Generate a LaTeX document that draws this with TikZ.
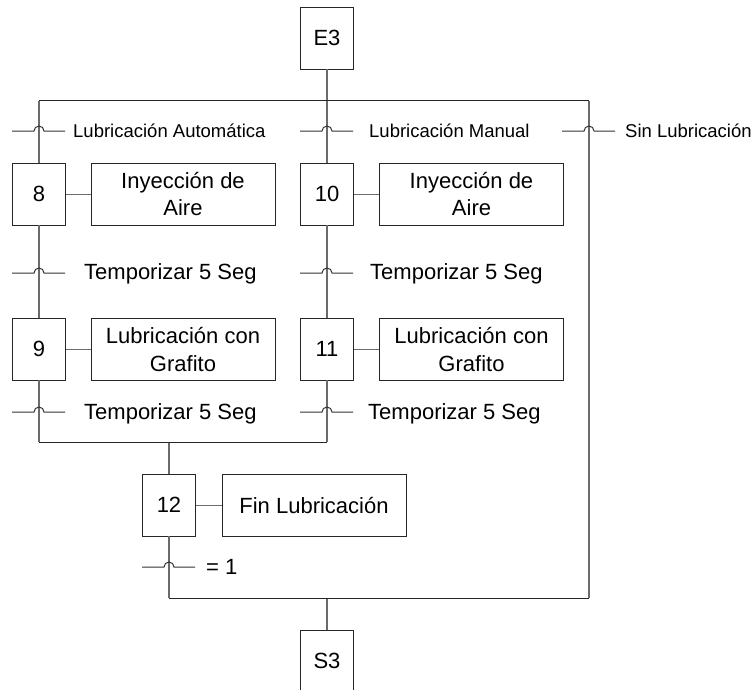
\documentclass[tikz,border=0pt]{standalone}
\usepackage{fontspec}
\setmainfont{Liberation Sans}
\begin{document}
\begin{tikzpicture}[x=1pt,y=-1pt,
  box/.style={draw=black!85,line width=0.9pt,minimum height=62pt,inner sep=0pt,
    font=\fontsize{22}{28}\selectfont},
  stepbox/.style={box,minimum width=53pt},
  actbox/.style={box,minimum width=184pt,align=center},
  flow/.style={draw=black!58,line width=1.2pt},
  bar/.style={draw=black!85,line width=1pt},
  trans/.style={draw=black!80,line width=1pt},
  tlabel/.style={anchor=base west,inner sep=0pt,font=\fontsize{18.5}{20}\selectfont},
  tlabelbig/.style={anchor=base west,inner sep=0pt,font=\fontsize{22}{24}\selectfont},
  hop/.pic={\draw[trans] (-27,0) -- (-5,0) arc (180:360:5) -- (26,0);}]
\useasboundingbox (0,0) rectangle (754,689);
\begin{scope}
\clip (0,0) rectangle (754,689);

% steps
\node[stepbox] (e3)  at (327,38)  {E3};
\node[stepbox] (s8)  at (39,194)  {8};
\node[stepbox] (s10) at (327,194) {10};
\node[stepbox] (s9)  at (39,349)  {9};
\node[stepbox] (s11) at (327,349) {11};
\node[stepbox] (s12) at (169,505) {12};
\node[stepbox] (s3)  at (327,661) {S3};

% actions
\node[actbox] (a8)  at (183,194)   {Inyección de\\Aire};
\node[actbox] (a10) at (471.5,194) {Inyección de\\Aire};
\node[actbox] (a9)  at (183,349)   {Lubricación con\\Grafito};
\node[actbox] (a11) at (471.5,349) {Lubricación con\\Grafito};
\node[actbox] (a12) at (314,505)   {Fin Lubricación};

% divergence and convergence bars
\coordinate (tbL) at (39,100.7);
\coordinate (tbM) at (327,100.7);
\coordinate (tbR) at (589,100.7);
\coordinate (jL)  at (39,442);
\coordinate (jR)  at (327,442);
\coordinate (jM)  at (169,442);
\coordinate (bbL) at (169,598);
\coordinate (bbM) at (327,598);
\coordinate (bbR) at (589,598);

% vertical flow
\draw[flow] (e3.south) -- (tbM);
\draw[flow] (tbL) -- (s8.north);
\draw[flow] (tbM) -- (s10.north);
\draw[flow] (tbR) -- (bbR);
\draw[flow] (s8.south) -- (s9.north);
\draw[flow] (s10.south) -- (s11.north);
\draw[flow] (s9.south) -- (jL);
\draw[flow] (s11.south) -- (jR);
\draw[flow] (jM) -- (s12.north);
\draw[flow] (s12.south) -- (bbL);
\draw[flow] (bbM) -- (s3.north);

\draw[bar] (tbL) -- (tbR);
\draw[bar] (jL) -- (jR);
\draw[bar] (bbL) -- (bbR);

% step to action links
\draw[flow,line width=1pt] (s8.east) -- (a8.west);
\draw[flow,line width=1pt] (s10.east) -- (a10.west);
\draw[flow,line width=1pt] (s9.east) -- (a9.west);
\draw[flow,line width=1pt] (s11.east) -- (a11.west);
\draw[flow,line width=1pt] (s12.east) -- (a12.west);

% transitions
\pic at (39,131)  {hop};
\pic at (327,131) {hop};
\pic at (589,131) {hop};
\pic at (39,273)  {hop};
\pic at (327,273) {hop};
\pic at (39,412)  {hop};
\pic at (327,412) {hop};
\pic at (169,567) {hop};

\node[tlabel] (c1) at (73,137.6)  {Lubricación Automática};
\node[tlabel] (c2) at (369,137.6) {Lubricación Manual};
\node[tlabel] (c3) at (625,137.6) {Sin Lubricación};
\node[tlabelbig] (c4) at (84,279.5)  {Temporizar 5 Seg};
\node[tlabelbig] (c5) at (370,279.5) {Temporizar 5 Seg};
\node[tlabelbig] (c6) at (84,419)  {Temporizar 5 Seg};
\node[tlabelbig] (c7) at (368,419) {Temporizar 5 Seg};
\node[tlabelbig] (c8) at (206,574) {= 1};
\end{scope}
\end{tikzpicture}
\end{document}
